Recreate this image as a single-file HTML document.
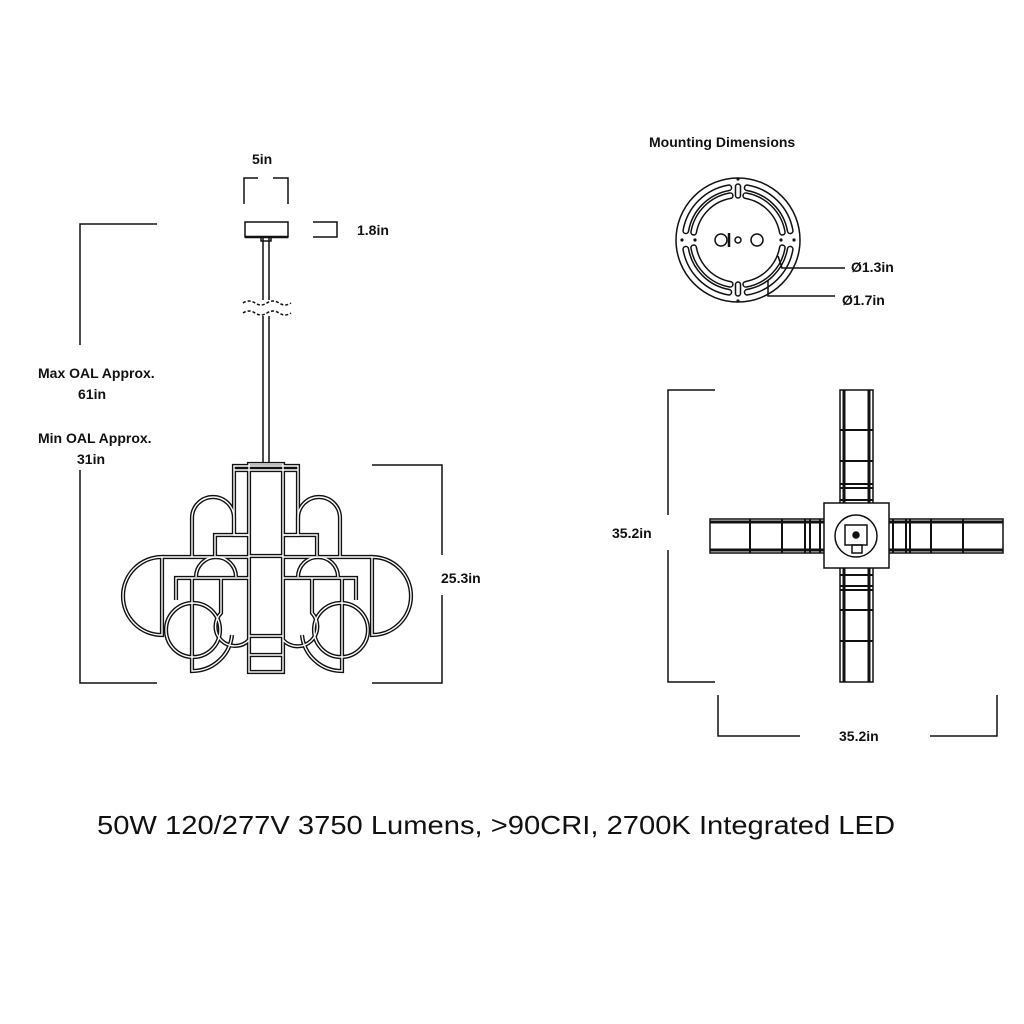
<!DOCTYPE html>
<html><head><style>
html,body{margin:0;padding:0;background:#fff}
svg{display:block}
text{font-family:"Liberation Sans",sans-serif;fill:#111}
.l{font-size:14px;font-weight:bold}
</style></head><body>
<svg width="1024" height="1024" viewBox="0 0 1024 1024" xmlns="http://www.w3.org/2000/svg">
<defs>
<g id="ch" fill="none">
  <rect x="249" y="464" width="34" height="208"/>
  <line x1="249" y1="556" x2="283" y2="556"/>
  <line x1="249" y1="636" x2="283" y2="636"/>
  <line x1="249" y1="655" x2="283" y2="655"/>
  <path d="M249 535 H234 V466 H298 V535 H283"/>
  <line x1="234" y1="470" x2="298" y2="470"/>
  <path d="M249 535 H215 V556"/>
  <path d="M283 535 H317 V556"/>
  <path d="M192 557 V518 A21 21 0 0 1 234 518 V535"/>
  <path d="M298 535 V518 A21 21 0 0 1 340 518 V557"/>
  <line x1="162" y1="557" x2="249" y2="557"/>
  <line x1="283" y1="557" x2="372" y2="557"/>
  <path d="M162 557 A39 39 0 0 0 162 635 Z"/>
  <path d="M372 557 A39 39 0 0 1 372 635 Z"/>
  <path d="M196 577 A20 20 0 0 1 236 577"/>
  <path d="M298 577 A20 20 0 0 1 338 577"/>
  <path d="M249 578 H176 V600"/>
  <path d="M283 578 H356 V600"/>
  <path d="M221 578 V613 A14 14 0 0 0 249 640"/>
  <path d="M312 578 V613 A14 14 0 0 1 283 640"/>
  <circle cx="193" cy="630" r="27"/>
  <circle cx="341" cy="630" r="27"/>
  <path d="M192 578 V671 A40 40 0 0 0 232 635"/>
  <path d="M342 578 V671 A40 40 0 0 1 302 635"/>
</g>
<g id="q" fill="none">
  <path d="M745.8 195.7 A45 45 0 0 1 782.3 232.2"/>
  <path d="M747.2 187.8 A53 53 0 0 1 790.2 230.8"/>
</g>
<g id="slots">
  <use href="#q"/>
  <use href="#q" transform="translate(1476,0) scale(-1,1)"/>
  <use href="#q" transform="translate(0,480) scale(1,-1)"/>
  <use href="#q" transform="translate(1476,480) scale(-1,-1)"/>
</g>
</defs>
<g stroke="#111" stroke-width="4.2" fill="none"><use href="#ch"/></g>
<g stroke="#fff" stroke-width="1.4" fill="none"><use href="#ch"/></g>

<g stroke="#111" stroke-width="1.5" fill="none">
<line x1="263" y1="238" x2="263" y2="300"/><line x1="269" y1="238" x2="269" y2="300"/>
<line x1="263" y1="316" x2="263" y2="463"/><line x1="269" y1="316" x2="269" y2="463"/>
<path d="M243 303 q6 -4 12 0 q6 4 12 0 q6 -4 12 0 q6 4 12 0" stroke-dasharray="3 2"/>
<path d="M243 313 q6 -4 12 0 q6 4 12 0 q6 -4 12 0 q6 4 12 0" stroke-dasharray="3 2"/>
<rect x="245" y="222" width="43" height="15"/>
<line x1="245" y1="237" x2="288" y2="237" stroke-width="2.5"/>
<rect x="261" y="237" width="10" height="4"/>
<path d="M244 204 V178 H258 M273 178 H288 V204"/>
<path d="M313 222 H337 V237 H313" />
<path d="M157 224 H80 V345"/>
<path d="M80 470 V683 H157"/>
<path d="M372 465 H442 V555"/>
<path d="M442 595 V683 H372"/>
<path d="M715 390 H668 V515"/>
<path d="M668 550 V682 H715"/>
<path d="M718 695 V736 H800"/>
<path d="M930 736 H997 V695"/>
</g>

<!-- mounting plate -->
<g stroke="#111" stroke-width="7" stroke-linecap="round" fill="none"><use href="#slots"/></g>
<g stroke="#fff" stroke-width="4" stroke-linecap="round" fill="none"><use href="#slots"/></g>
<g stroke="#111" stroke-width="1.5" fill="none">
<circle cx="738" cy="240" r="62"/>
<circle cx="721" cy="240" r="6"/><circle cx="757" cy="240" r="6"/><circle cx="738" cy="240" r="3"/>
<line x1="729" y1="233" x2="729" y2="247" stroke-width="2.5"/>
<rect x="735.5" y="184" width="5" height="14" rx="2.5"/><rect x="735.5" y="282" width="5" height="14" rx="2.5"/>
<path d="M778 256 L782 268 H845"/>
<path d="M768 280 V296 H835"/>
</g>
<g fill="#111"><circle cx="738" cy="179" r="1.6"/><circle cx="738" cy="301" r="1.6"/><circle cx="682" cy="240" r="1.6"/><circle cx="794" cy="240" r="1.6"/><circle cx="695" cy="240" r="1.6"/><circle cx="781" cy="240" r="1.6"/></g>

<!-- plan cross -->
<g stroke="#111" stroke-width="1.5" fill="none">
<rect x="840" y="390" width="33" height="292"/>
<rect x="710" y="519" width="293" height="34"/>
<rect x="824" y="503" width="65" height="65" fill="#fff"/>
<line x1="844" y1="390" x2="844" y2="503" stroke-width="3"/><line x1="869" y1="390" x2="869" y2="503" stroke-width="3"/>
<line x1="844" y1="568" x2="844" y2="682" stroke-width="3"/><line x1="869" y1="568" x2="869" y2="682" stroke-width="3"/>
<line x1="710" y1="522" x2="824" y2="522" stroke-width="3"/><line x1="710" y1="550" x2="824" y2="550" stroke-width="3"/>
<line x1="889" y1="522" x2="1003" y2="522" stroke-width="3"/><line x1="889" y1="550" x2="1003" y2="550" stroke-width="3"/>
<path d="M840 430 H873 M840 461 H873 M840 484 H873 M840 488 H873 M840 500 H873 M840 575 H873 M840 586 H873 M840 590 H873 M840 610 H873 M840 641 H873" stroke-width="2"/>
<path d="M750 519 V553 M782 519 V553 M805 519 V553 M810 519 V553 M820 519 V553 M893 519 V553 M906 519 V553 M910 519 V553 M931 519 V553 M963 519 V553" stroke-width="2"/>
<circle cx="856" cy="536" r="21"/>
<rect x="845" y="525" width="22" height="20"/>
<rect x="852" y="545" width="10" height="8"/>
<circle cx="856" cy="535" r="3" fill="#111"/>
</g>

<text class="l" x="649" y="147">Mounting Dimensions</text>
<text class="l" x="252" y="164">5in</text>
<text class="l" x="357" y="235">1.8in</text>
<text class="l" x="38" y="378">Max OAL Approx.</text>
<text class="l" x="78" y="399">61in</text>
<text class="l" x="38" y="443">Min OAL Approx.</text>
<text class="l" x="77" y="464">31in</text>
<text class="l" x="441" y="583">25.3in</text>
<text class="l" x="851" y="272">Ø1.3in</text>
<text class="l" x="842" y="305">Ø1.7in</text>
<text class="l" x="612" y="538">35.2in</text>
<text class="l" x="839" y="741">35.2in</text>
<text x="97" y="834" font-size="26" textLength="798" lengthAdjust="spacingAndGlyphs">50W 120/277V 3750 Lumens, &gt;90CRI, 2700K Integrated LED</text>
</svg>
</body></html>
